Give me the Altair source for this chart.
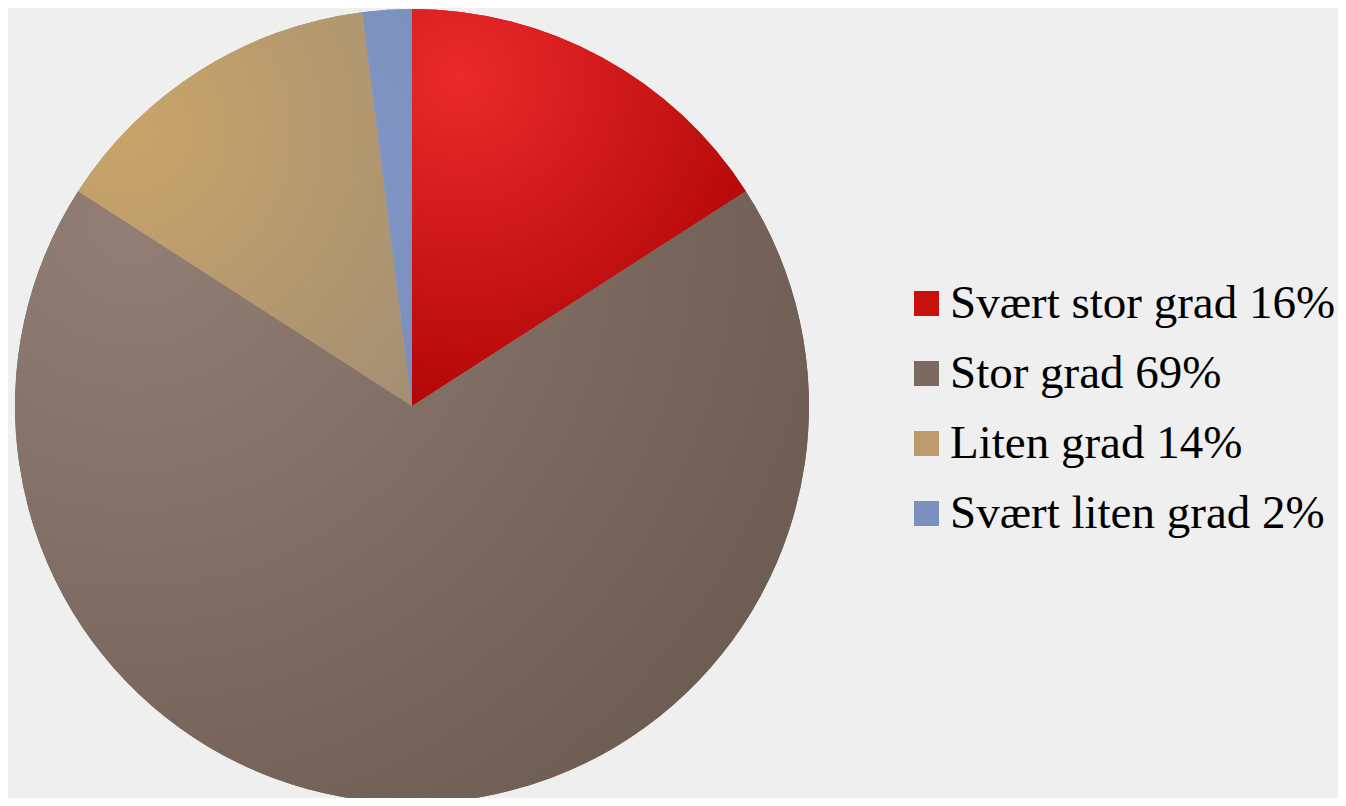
import altair as alt
import pandas as pd

categories = ["Svært stor grad 16%", "Stor grad 69%", "Liten grad 14%", "Svært liten grad 2%"]
values = [15.9, 68.2, 13.9, 2.0]
colors = ["#c8100f", "#7c6a60", "#bb9b6c", "#7b90bf"]
light = ["#ea2a2c", "#927e74", "#c8a468", "#8197c6"]
dark = ["#a80000", "#6b5a50", "#a48f74", "#7489b4"]

df = pd.DataFrame({"cat": categories, "val": values, "order": list(range(len(values)))})

base = alt.Chart(df).transform_window(
    end="sum(val)", sort=[alt.SortField("order")], frame=[None, 0]
).transform_calculate(start="datum.end - datum.val")

theta = alt.Theta("start:Q", scale=alt.Scale(domain=[0, 100]))
theta2 = alt.Theta2("end:Q")

main = base.mark_arc(radius=397, stroke=None).encode(
    theta=theta,
    theta2=theta2,
    x=alt.value(404),
    y=alt.value(398),
    color=alt.Color(
        "cat:N",
        scale=alt.Scale(domain=categories, range=colors),
        sort=categories,
        legend=alt.Legend(
            title=None,
            orient="none",
            legendX=895,
            legendY=272,
            symbolType="square",
            symbolSize=625,
            symbolStrokeWidth=0,
            labelFont="Liberation Serif",
            labelFontSize=47,
            labelColor="#000000",
            labelOffset=0,
            labelLimit=600,
            rowPadding=22,
        ),
    ),
    order=alt.Order("order:Q"),
)

hx = [0.2, 0.15, 0.2, 0.3]
hy = [0.17, 0.15, 0.3, 0.4]
layers = [main]
for i, c in enumerate(categories):
    grad = {
        "gradient": "radial",
        "x1": hx[i], "y1": hy[i], "r1": 0,
        "x2": hx[i], "y2": hy[i], "r2": 1.0,
        "stops": [{"offset": 0, "color": light[i]}, {"offset": 1, "color": dark[i]}],
    }
    layers.append(
        base.mark_arc(radius=397, fill=grad, stroke=None).encode(
            theta=theta, theta2=theta2, x=alt.value(404), y=alt.value(398)
        ).transform_filter(alt.datum.cat == c)
    )

chart = alt.layer(*layers).properties(
    width=1330, height=790, padding=0, background="#efefef",
    autosize=alt.AutoSizeParams(type="none"),
).configure_view(stroke=None)

chart.save("out.html", embed_options={"renderer": "svg", "actions": False})
